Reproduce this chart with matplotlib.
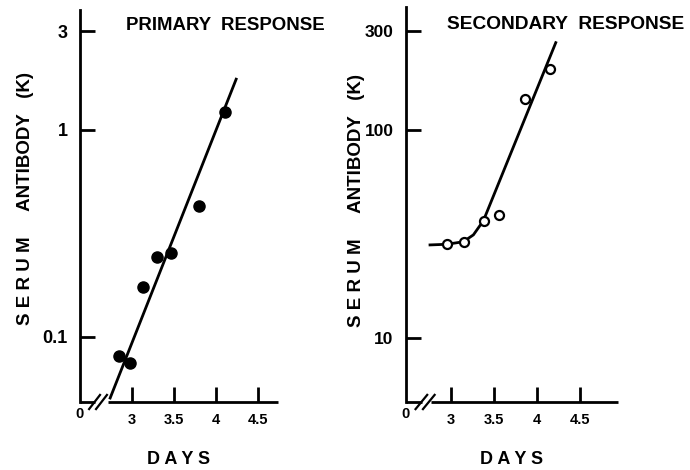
import matplotlib
matplotlib.use('Agg')
import matplotlib.pyplot as plt

# Primary response: serum antibody (K) against days
prim_days = [2.845, 2.976, 3.13, 3.30, 3.46, 3.80, 4.11]
prim_k = [0.081, 0.075, 0.174, 0.243, 0.255, 0.43, 1.22]
prim_fit_days = [2.74, 4.24]
prim_fit_k = [0.0507, 1.76]

# Secondary response
sec_days = [2.95, 3.155, 3.387, 3.555, 3.86, 4.148]
sec_k = [28.2, 29.0, 36.6, 39.0, 140.5, 196.5]
sec_fit_days = [2.756, 2.95, 3.143, 3.26, 3.376, 4.217]
sec_fit_k = [28.0, 28.2, 29.0, 31.3, 36.6, 262.8]

x_ticks = [3, 3.5, 4, 4.5]
x_ticklabels = ['3', '3.5', '4', '4.5']
prim_yticks = [0.1, 1, 3]
prim_yticklabels = ['0.1', '1', '3']
sec_yticks = [10, 100, 300]
sec_yticklabels = ['10', '100', '300']

plt.rcParams['font.family'] = ['Liberation Sans', 'DejaVu Sans']
plt.rcParams['font.weight'] = 'bold'
plt.rcParams['axes.labelweight'] = 'bold'

W, H = 690, 470
fig = plt.figure(figsize=(W / 100, H / 100), dpi=100)


def px_axes(x0, x1, y_top, y_bot):
    return fig.add_axes([x0 / W, (H - y_bot) / H, (x1 - x0) / W, (y_bot - y_top) / H])


def style(ax, gap, ysize):
    ax.set_yscale('log')
    for s in ('top', 'right', 'bottom'):
        ax.spines[s].set_visible(False)
    ax.spines['left'].set_linewidth(2)
    ax.minorticks_off()
    ax.tick_params(axis='both', direction='in', length=11, width=2, color='black')
    ax.tick_params(axis='y', pad=9, labelsize=ysize)
    ax.tick_params(axis='x', pad=8, labelsize=10.5)
    ax.set_xticks(x_ticks)
    ax.set_xticklabels(x_ticklabels)
    # broken x axis with two slashes
    kw = dict(transform=ax.transAxes, color='black', lw=2, clip_on=False,
              solid_capstyle='butt')
    ax.plot([0, gap[0]], [0, 0], **kw)
    ax.plot([gap[1], 1], [0, 0], **kw)
    for dx in (0.0, 0.035):
        x0 = gap[0] - 0.03 + dx
        ax.plot([x0, x0 + 0.055], [-0.018, 0.018], transform=ax.transAxes,
                color='black', lw=1.6, clip_on=False)
    ax.annotate('0', xy=(0, 0), xycoords='axes fraction', xytext=(0, -9),
                textcoords='offset points', ha='center', va='center', fontsize=10.5)
    ax.set_xlabel('D A Y S', fontsize=13, labelpad=17)


# left panel
ax1 = px_axes(80, 278, 10, 402)
style(ax1, (0.076, 0.14), 13)
ax1.set_xlim(2.381, 4.738)
ax1.set_ylim(0.0485, 3.8)
ax1.set_yticks(prim_yticks)
ax1.set_yticklabels(prim_yticklabels)
ax1.minorticks_off()
ax1.plot(prim_fit_days, prim_fit_k, color='black', lw=2)
ax1.plot(prim_days, prim_k, 'o', color='black', ms=8)
ax1.text(0.23, 0.96, 'PRIMARY  RESPONSE', transform=ax1.transAxes,
         fontsize=13.4, ha='left', va='center')
ax1.set_ylabel('S E R U M     ANTIBODY   (K)', fontsize=13.5)
ax1.yaxis.set_label_coords(-0.234, 0.52)

# right panel
ax2 = px_axes(406, 618, 7, 402)
style(ax2, (0.075, 0.12), 12.5)
ax2.set_xlim(2.477, 4.94)
ax2.set_ylim(4.92, 390)
ax2.set_yticks(sec_yticks)
ax2.set_yticklabels(sec_yticklabels)
ax2.minorticks_off()
ax2.plot(sec_fit_days, sec_fit_k, color='black', lw=2)
ax2.plot(sec_days, sec_k, 'o', mfc='white', mec='black', mew=1.6, ms=6.5)
ax2.text(0.195, 0.955, 'SECONDARY  RESPONSE', transform=ax2.transAxes,
         fontsize=13.8, ha='left', va='center', clip_on=False)
ax2.set_ylabel('S E R U M     ANTIBODY   (K)', fontsize=13.5)
ax2.yaxis.set_label_coords(-0.195, 0.51)

fig.savefig('out.png', dpi=100)
